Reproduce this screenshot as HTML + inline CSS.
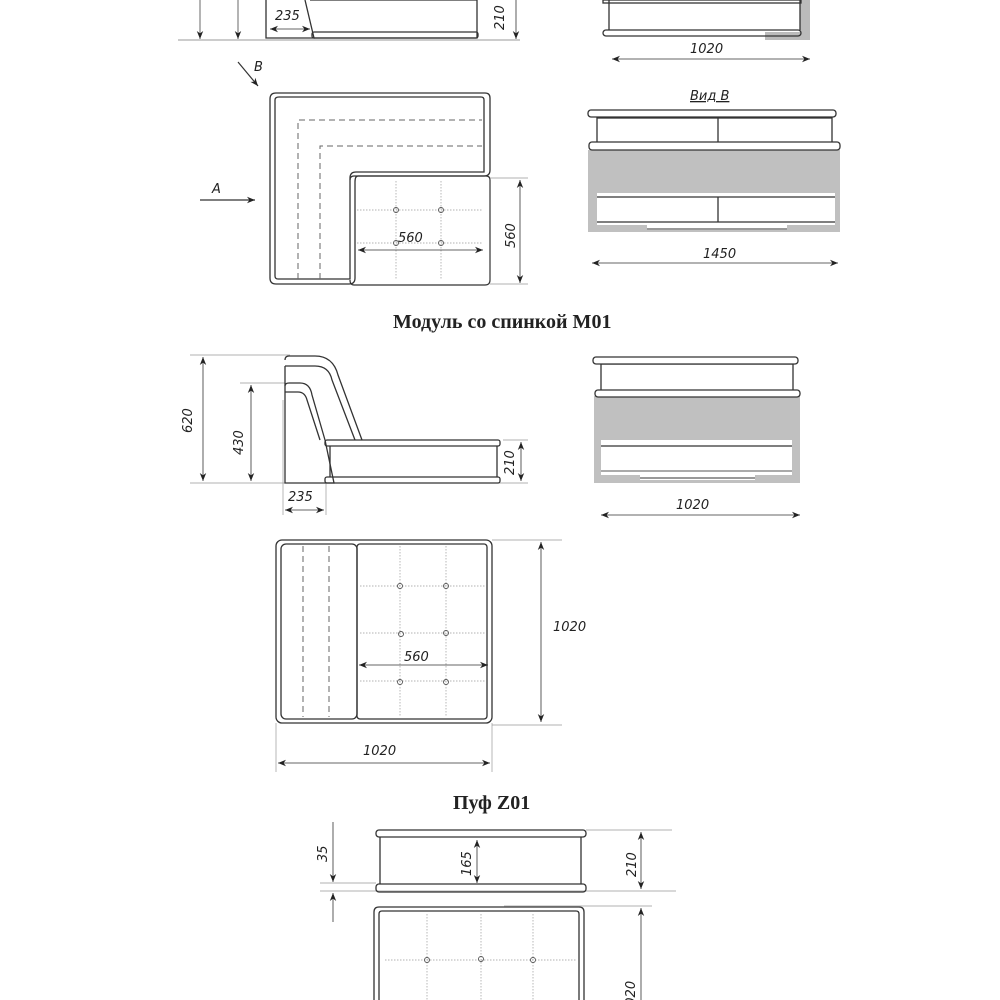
<!DOCTYPE html>
<html><head><meta charset="utf-8"><style>
html,body{margin:0;padding:0;background:#fff;width:1000px;height:1000px;overflow:hidden}
svg text{font-family:"DejaVu Sans","Liberation Sans",sans-serif;font-style:italic;font-size:13px;fill:#222}
.t{font-family:"Liberation Serif",serif;font-style:normal;font-weight:bold;font-size:20px}
</style></head><body>
<svg width="1000" height="1000" viewBox="0 0 1000 1000" xmlns="http://www.w3.org/2000/svg">
<defs>
<marker id="a" viewBox="0 0 10 10" refX="10" refY="5" markerWidth="12" markerHeight="8" orient="auto-start-reverse" markerUnits="userSpaceOnUse"><path d="M0,1 L10,5 L0,9 L3,5z" fill="#222"/></marker>
</defs>
<g fill="none" stroke="#333" stroke-width="1.3">
<line x1="178" y1="40" x2="520" y2="40" stroke="#999" stroke-width="1"/>
<line x1="200" y1="0" x2="200" y2="39" stroke="#444" stroke-width="0.8" marker-end="url(#a)"/>
<line x1="238" y1="0" x2="238" y2="39" stroke="#444" stroke-width="0.8" marker-end="url(#a)"/>
<path d="M266,0 V38 H314 L305,0"/>
<path d="M310,0 H477 V38 H314"/>
<rect x="312" y="32" width="166" height="6" rx="2"/>
<line x1="270" y1="29" x2="310" y2="29" stroke-width="0.8" marker-start="url(#a)" marker-end="url(#a)"/>
<line x1="516" y1="0" x2="516" y2="39" stroke-width="0.8" marker-end="url(#a)"/>
<rect x="800" y="0" width="10" height="40" fill="#bbb" stroke="none"/>
<rect x="765" y="32" width="45" height="8" fill="#bbb" stroke="none"/>
<path d="M609,0 V30 M800,0 V30"/>
<rect x="603" y="0" width="198" height="3"/>
<rect x="603" y="30" width="198" height="6" rx="3"/>
<line x1="612" y1="59" x2="810" y2="59" stroke-width="0.8" marker-start="url(#a)" marker-end="url(#a)"/>
<path d="M276,93 H485 Q490,93 490,98 V170 Q490,176 484,176 H358 Q355,176 355,182 V278 Q355,284 349,284 H276 Q270,284 270,278 V99 Q270,93 276,93Z" stroke-width="1.3"/>
<path d="M279,97 H481 Q484,97 484,100 V172 H356 Q350,172 350,178 V279 H278 Q275,279 275,276 V100 Q275,97 279,97Z" stroke-width="1.3"/>
<path d="M350,180 Q350,176 354,176 H486 Q490,176 490,180 V280 Q490,285 485,285 H354 Q350,285 350,280" stroke-width="1.2"/>
<path d="M298,279 V120 H482" stroke-dasharray="6,4" stroke="#666" stroke-width="1"/>
<path d="M320,279 V146 H482" stroke-dasharray="6,4" stroke="#666" stroke-width="1"/>
<g stroke="#999" stroke-width="0.7" stroke-dasharray="1.5,1.5">
<line x1="396" y1="181" x2="396" y2="280"/><line x1="441" y1="181" x2="441" y2="280"/>
<line x1="357" y1="210" x2="482" y2="210"/><line x1="357" y1="243" x2="482" y2="243"/>
</g>
<g stroke="#555" stroke-width="0.9"><circle cx="396" cy="210" r="2.5"/><circle cx="441" cy="210" r="2.5"/><circle cx="396" cy="243" r="2.5"/><circle cx="441" cy="243" r="2.5"/></g>
<line x1="358" y1="250" x2="483" y2="250" stroke-width="0.8" marker-start="url(#a)" marker-end="url(#a)"/>
<line x1="490" y1="178" x2="528" y2="178" stroke="#999" stroke-width="0.7"/>
<line x1="490" y1="284" x2="528" y2="284" stroke="#999" stroke-width="0.7"/>
<line x1="520" y1="180" x2="520" y2="283" stroke-width="0.8" marker-start="url(#a)" marker-end="url(#a)"/>
<line x1="200" y1="200" x2="255" y2="200" stroke-width="1.2" marker-end="url(#a)"/>
<line x1="238" y1="62" x2="258" y2="86" stroke-width="1.2" marker-end="url(#a)"/>
<rect x="588" y="150" width="252" height="82" fill="#c0c0c0" stroke="none"/>
<rect x="597" y="118" width="235" height="25" fill="#fff"/>
<line x1="718" y1="118" x2="718" y2="143"/>
<rect x="588" y="110" width="248" height="7" rx="3" fill="#fff"/>
<rect x="589" y="142" width="251" height="8" rx="3" fill="#fff"/>
<rect x="597" y="193" width="238" height="32" fill="#fff" stroke="none"/>
<line x1="597" y1="197" x2="835" y2="197"/><line x1="597" y1="222" x2="835" y2="222"/>
<line x1="718" y1="197" x2="718" y2="222"/>
<rect x="647" y="225" width="140" height="5" fill="#fff" stroke="none"/>
<line x1="647" y1="229" x2="787" y2="229" stroke-width="1"/>
<line x1="592" y1="263" x2="838" y2="263" stroke-width="0.8" marker-start="url(#a)" marker-end="url(#a)"/>
<line x1="190" y1="355" x2="290" y2="355" stroke="#999" stroke-width="0.7"/>
<line x1="240" y1="383" x2="285" y2="383" stroke="#999" stroke-width="0.7"/>
<line x1="190" y1="483" x2="528" y2="483" stroke="#999" stroke-width="0.7"/>
<line x1="503" y1="440" x2="528" y2="440" stroke="#999" stroke-width="0.7"/>
<line x1="203" y1="357" x2="203" y2="481" stroke-width="0.8" marker-start="url(#a)" marker-end="url(#a)"/>
<line x1="251" y1="385" x2="251" y2="481" stroke-width="0.8" marker-start="url(#a)" marker-end="url(#a)"/>
<line x1="521" y1="442" x2="521" y2="481" stroke-width="0.8" marker-start="url(#a)" marker-end="url(#a)"/>
<line x1="283" y1="400" x2="283" y2="515" stroke="#999" stroke-width="0.7"/>
<line x1="326" y1="483" x2="326" y2="515" stroke="#999" stroke-width="0.7"/>
<line x1="285" y1="510" x2="324" y2="510" stroke-width="0.8" marker-start="url(#a)" marker-end="url(#a)"/>
<path d="M285,360 Q285,356 289,356 H315 Q333,356 338,375 L362,440"/>
<path d="M285,366 H315 Q329,366 332,380 L355,440"/>
<path d="M285,386 Q285,383 289,383 H300 Q310,383 312,395 L325,440"/>
<path d="M285,392 H298 Q305,392 307,400 L320,440"/>
<path d="M285,366 V483 H334 L325,440"/>
<rect x="325" y="440" width="175" height="6" rx="2"/>
<path d="M330,446 V477 M497,446 V477"/>
<rect x="325" y="477" width="175" height="6" rx="2"/>
<rect x="594" y="396" width="206" height="87" fill="#c0c0c0" stroke="none"/>
<rect x="601" y="364" width="192" height="27" fill="#fff"/>
<rect x="593" y="357" width="205" height="7" rx="3" fill="#fff"/>
<rect x="595" y="390" width="205" height="7" rx="3" fill="#fff"/>
<rect x="601" y="440" width="191" height="35" fill="#fff" stroke="none"/>
<line x1="601" y1="446" x2="792" y2="446"/><line x1="601" y1="471" x2="792" y2="471" stroke="#777"/>
<rect x="640" y="475" width="115" height="5" fill="#fff" stroke="none"/>
<line x1="640" y1="478" x2="755" y2="478" stroke-width="1"/>
<line x1="601" y1="515" x2="800" y2="515" stroke-width="0.8" marker-start="url(#a)" marker-end="url(#a)"/>
<rect x="276" y="540" width="216" height="183" rx="6"/>
<rect x="281" y="544" width="76" height="175" rx="5"/>
<rect x="357" y="544" width="130" height="175" rx="3"/>
<line x1="303" y1="546" x2="303" y2="717" stroke-dasharray="6,4" stroke="#666" stroke-width="1"/>
<line x1="329" y1="546" x2="329" y2="717" stroke-dasharray="6,4" stroke="#666" stroke-width="1"/>
<g stroke="#999" stroke-width="0.7" stroke-dasharray="1.5,1.5">
<line x1="400" y1="546" x2="400" y2="717"/><line x1="446" y1="546" x2="446" y2="717"/>
<line x1="360" y1="586" x2="486" y2="586"/><line x1="360" y1="633" x2="486" y2="633"/><line x1="360" y1="681" x2="486" y2="681"/>
</g>
<g stroke="#555" stroke-width="0.9"><circle cx="400" cy="586" r="2.5"/><circle cx="446" cy="586" r="2.5"/><circle cx="401" cy="634" r="2.5"/><circle cx="446" cy="633" r="2.5"/><circle cx="400" cy="682" r="2.5"/><circle cx="446" cy="682" r="2.5"/></g>
<line x1="359" y1="665" x2="488" y2="665" stroke-width="0.8" marker-start="url(#a)" marker-end="url(#a)"/>
<line x1="492" y1="540" x2="562" y2="540" stroke="#999" stroke-width="0.7"/>
<line x1="492" y1="725" x2="562" y2="725" stroke="#999" stroke-width="0.7"/>
<line x1="541" y1="542" x2="541" y2="722" stroke-width="0.8" marker-start="url(#a)" marker-end="url(#a)"/>
<line x1="276" y1="723" x2="276" y2="772" stroke="#999" stroke-width="0.7"/>
<line x1="492" y1="723" x2="492" y2="772" stroke="#999" stroke-width="0.7"/>
<line x1="278" y1="763" x2="490" y2="763" stroke-width="0.8" marker-start="url(#a)" marker-end="url(#a)"/>
<line x1="586" y1="830" x2="672" y2="830" stroke="#999" stroke-width="0.7"/>
<line x1="320" y1="883" x2="376" y2="883" stroke="#999" stroke-width="0.7"/>
<line x1="320" y1="891" x2="676" y2="891" stroke="#999" stroke-width="0.7"/>
<rect x="376" y="830" width="210" height="7" rx="3"/>
<path d="M380,837 V884 M581,837 V884"/>
<rect x="376" y="884" width="210" height="8" rx="3"/>
<line x1="477" y1="840" x2="477" y2="883" stroke-width="0.8" marker-start="url(#a)" marker-end="url(#a)"/>
<line x1="641" y1="832" x2="641" y2="889" stroke-width="0.8" marker-start="url(#a)" marker-end="url(#a)"/>
<line x1="333" y1="822" x2="333" y2="882" stroke-width="0.8" marker-end="url(#a)"/>
<line x1="333" y1="922" x2="333" y2="893" stroke-width="0.8" marker-end="url(#a)"/>
<path d="M374,1000 V912 Q374,907 379,907 H579 Q584,907 584,912 V1000"/>
<path d="M379,1000 V914 Q379,911 382,911 H576 Q579,911 579,914 V1000"/>
<line x1="504" y1="906" x2="652" y2="906" stroke="#999" stroke-width="0.7"/>
<line x1="641" y1="908" x2="641" y2="1000" stroke-width="0.8" marker-start="url(#a)"/>
<g stroke="#999" stroke-width="0.7" stroke-dasharray="1.5,1.5">
<line x1="427" y1="914" x2="427" y2="1000"/><line x1="481" y1="914" x2="481" y2="1000"/><line x1="533" y1="914" x2="533" y2="1000"/>
<line x1="385" y1="960" x2="577" y2="960"/>
</g>
<g stroke="#555" stroke-width="0.9"><circle cx="427" cy="960" r="2.5"/><circle cx="481" cy="959" r="2.5"/><circle cx="533" cy="960" r="2.5"/></g>
</g>
<text x="275" y="20">235</text>
<text transform="translate(504,30) rotate(-90)">210</text>
<text x="690" y="53">1020</text>
<text x="254" y="71">B</text>
<text x="212" y="193">A</text>
<text x="398" y="242">560</text>
<text transform="translate(515,248) rotate(-90)">560</text>
<text x="690" y="100" style="text-decoration:underline">Вид В</text>
<text x="703" y="258">1450</text>
<text class="t" x="393" y="328">Модуль со спинкой М01</text>
<text transform="translate(192,433) rotate(-90)">620</text>
<text transform="translate(243,455) rotate(-90)">430</text>
<text transform="translate(514,475) rotate(-90)">210</text>
<text x="288" y="501">235</text>
<text x="676" y="509">1020</text>
<text x="404" y="661">560</text>
<text x="553" y="631">1020</text>
<text x="363" y="755">1020</text>
<text class="t" x="453" y="809">Пуф Z01</text>
<text transform="translate(327,862) rotate(-90)">35</text>
<text transform="translate(471,876) rotate(-90)">165</text>
<text transform="translate(636,877) rotate(-90)">210</text>
<text transform="translate(635,1014) rotate(-90)">1020</text>
</svg>
</body></html>
